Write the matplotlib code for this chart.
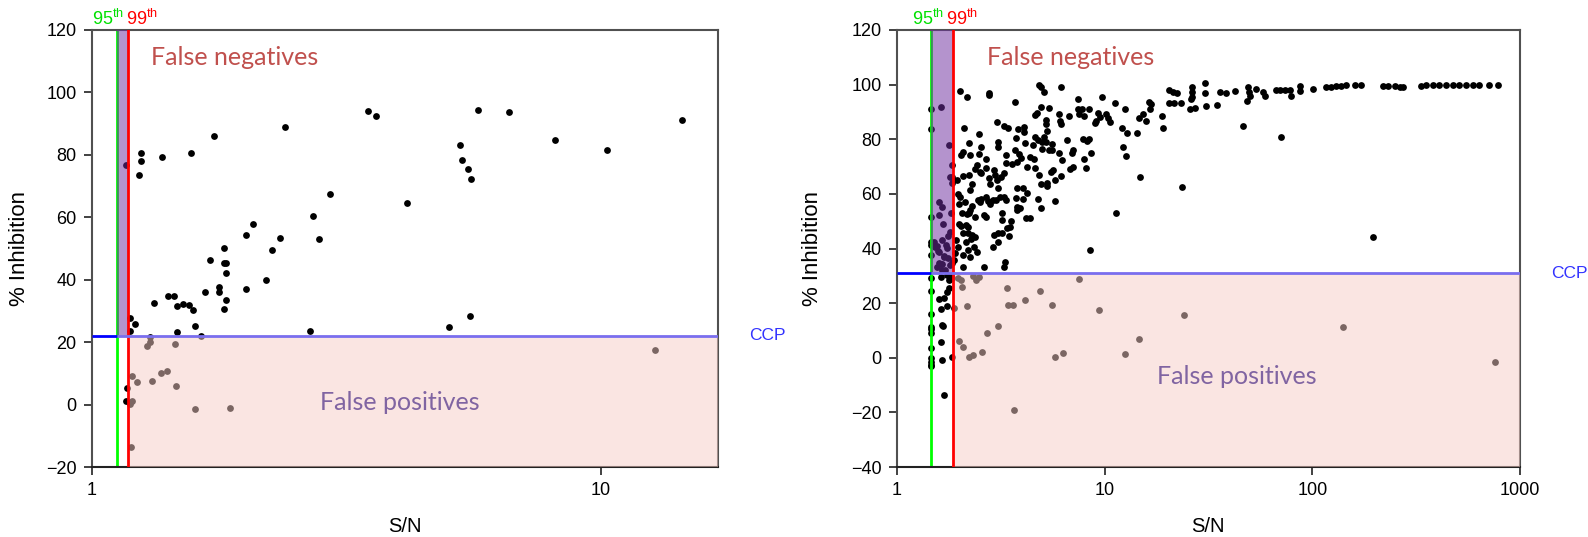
import matplotlib
matplotlib.use('Agg')
import matplotlib.pyplot as plt
import numpy as np
from matplotlib.ticker import FixedLocator, FixedFormatter, NullLocator
from matplotlib.transforms import blended_transform_factory, ScaledTranslation

plt.rcParams['font.family'] = ['Liberation Sans', 'DejaVu Sans']
plt.rcParams['mathtext.fontset'] = 'custom'
plt.rcParams['mathtext.rm'] = 'Liberation Sans'
plt.rcParams['mathtext.it'] = 'Liberation Sans:italic'

# ---------------- data: left panel ----------------
left_sn = [1.166, 1.236, 1.247, 1.247, 1.374, 1.566, 1.736, 2.391, 3.488, 3.612, 2.94,
           5.75, 6.61, 5.28, 5.34, 5.48, 5.57, 4.17, 8.12, 10.27, 14.43,
           5.04, 5.53, 12.78,
           2.72, 2.80, 2.068, 2.007, 2.345, 2.254, 2.193, 2.007, 1.816, 1.816, 1.834, 1.83,
           1.838, 1.819, 1.707, 1.778, 1.778, 1.671, 1.325, 1.409, 1.448, 1.466, 1.51, 1.552,
           1.579, 1.595, 1.472, 1.641, 1.19, 1.217, 1.188, 2.686,
           1.30, 1.30, 1.283, 1.457, 1.197, 1.226, 1.311, 1.369, 1.405, 1.461, 1.593, 1.864,
           1.2, 1.19, 1.195,
           1.17, 1.165]
left_inh = [76.6, 73.7, 80.6, 77.9, 79.3, 80.5, 85.9, 88.9, 94.0, 92.6, 67.4,
            94.4, 93.7, 83.0, 78.4, 75.6, 72.2, 64.7, 84.6, 81.5, 91.2,
            24.9, 28.3, 17.6,
            60.5, 53.0, 57.8, 54.4, 53.3, 49.5, 39.8, 37.0, 50.2, 45.2, 45.2, 42.1,
            33.5, 30.7, 46.3, 37.7, 36.1, 36.2, 32.6, 34.8, 34.9, 31.5, 32.2, 31.8,
            30.4, 25.1, 23.3, 21.9, 27.8, 25.9, 23.7, 23.7,
            21.7, 20.1, 18.9, 19.5, 9.2, 7.3, 7.4, 10.0, 10.6, 6.0, -1.3, -1.0,
            1.3, 0.1, -13.5,
            5.2, 1.3]
left_p95, left_p99, left_ccp = 1.12, 1.175, 22.0

# ---------------- data: right panel ----------------
right_sn = [
    # upper group
    2.02, 2.18, 2.76, 2.77, 3.70, 4.85, 4.96, 5.13, 6.19, 7.41, 9.73, 11.2, 12.5, 16.3, 16.7,
    20.3, 21.4, 22.2, 20.5, 21.6, 1.45, 1.63, 1.45, 3.03, 3.29, 3.41, 3.82, 4.09, 4.64, 4.71,
    4.94, 5.40, 5.22, 5.22, 5.26, 6.01, 6.10, 6.19, 6.75, 7.44, 7.55, 7.78, 7.95, 8.44, 8.94,
    9.12, 9.33, 9.50, 10.1, 10.4, 10.6, 12.1, 12.8, 14.3, 14.7, 15.3, 15.9, 16.6, 18.8, 19.0, 2.11,
    # 65-80
    1.78, 2.03, 2.08, 2.25, 2.23, 2.47, 2.53, 2.48, 2.69, 3.06, 3.08, 3.35, 3.74, 3.71, 3.88,
    4.09, 4.15, 4.50, 4.64, 4.80, 4.98, 5.11, 5.22, 5.01, 5.38, 5.58, 5.56, 6.06, 6.24, 6.57,
    7.02, 6.94, 7.83, 8.25, 8.44, 8.63, 12.3, 12.6, 7.92, 8.10, 1.79, 1.83, 1.83, 1.84,
    # 58-73
    1.94, 2.08, 2.21, 2.25, 2.30, 2.37, 2.43, 2.50, 2.54, 2.69, 2.76, 2.81, 2.92, 2.96, 3.03,
    3.05, 3.16, 3.26, 3.34, 3.56, 3.78, 3.95, 4.22, 4.38, 4.56, 4.06, 3.78, 3.74, 4.06, 4.22,
    4.62, 4.85, 4.92, 5.26, 5.26, 5.54, 5.63, 5.79, 6.15, 6.84, 7.07,
    # 40-60
    1.99, 1.96, 2.02, 2.12, 2.05, 2.17, 2.22, 2.25, 2.30, 2.38, 2.45, 2.50, 2.55, 2.63, 2.67,
    2.69, 2.75, 2.79, 2.89, 3.00, 3.14, 3.28, 3.35, 3.54, 3.51, 3.19, 3.20, 3.38, 3.48, 3.80,
    3.80, 3.92, 4.18, 4.35, 4.80, 4.92, 5.79, 11.4, 14.8, 8.50,
    # 32-50
    1.99, 2.04, 2.09, 2.15, 2.19, 2.19, 2.15, 2.29, 2.20, 2.09, 2.24, 2.27, 2.37, 2.34, 2.42,
    2.92, 3.05, 3.07, 3.19, 2.89, 3.31, 3.27, 2.61, 2.09, 1.93, 1.96, 1.91, 1.89,
    # between 95th and 99th
    1.60, 1.65, 1.60, 1.66, 1.46, 1.82, 1.80, 1.77, 1.50, 1.45, 1.46, 1.53, 1.59, 1.59, 1.65,
    1.69, 1.74, 1.77, 1.80, 1.45, 1.56, 1.65, 1.71, 1.56, 1.64, 1.73, 1.57, 1.69, 1.62, 1.83,
    # below CCP, below 99th
    1.45, 1.46, 1.45, 1.45, 1.45, 1.45, 1.45, 1.45, 1.45, 1.45, 1.45, 1.63, 1.74, 1.78, 1.78,
    1.74, 1.59, 1.69, 1.62, 1.74, 1.65, 1.66, 1.63, 1.65, 1.69, 1.85, 1.82, 1.85,
    # false positives
    1.89, 1.96, 2.04, 2.06, 2.17, 1.99, 2.08, 2.23, 2.32, 2.58, 2.71, 3.05, 3.38, 3.43, 3.62,
    3.64, 4.15, 4.89, 5.56, 5.79, 6.28, 7.55, 9.40, 12.5, 14.7, 2.32, 2.41, 2.48, 24.0, 140, 757,
    # plateau
    23.3, 23.6, 26.4, 26.4, 26.4, 26.0, 25.7, 27.2, 30.3, 30.3, 30.9, 34.9, 35.8, 38.6, 42.5,
    46.4, 49.0, 49.5, 50.0, 48.5, 53.8, 57.9, 59.0, 67.1, 70.1, 73.6, 70.4, 78.4, 78.8, 86.9,
    86.9, 101, 116, 123, 130, 138, 146, 160, 172, 197, 219, 231, 249, 263, 273,
    334, 353, 380, 409, 441, 474, 510, 550, 592, 637, 713, 782]
right_inh = [
    97.8, 95.3, 96.8, 96.1, 93.8, 99.7, 99.2, 97.3, 99.2, 94.6, 95.3, 93.4, 91.0, 93.6, 92.8,
    98.0, 97.4, 96.8, 93.4, 93.1, 91.2, 91.9, 83.6, 86.3, 85.0, 84.0, 83.6, 84.4, 88.9, 89.7,
    91.9, 91.6, 87.0, 85.6, 83.1, 89.2, 86.8, 85.6, 88.5, 91.0, 89.2, 91.0, 88.5, 91.0, 86.1,
    86.6, 89.5, 88.3, 89.1, 87.7, 86.2, 84.0, 82.4, 82.4, 87.7, 89.1, 86.7, 91.0, 88.5, 84.1, 84.0,
    78.0, 74.2, 75.5, 74.2, 78.8, 81.9, 77.0, 74.5, 72.7, 79.1, 77.0, 74.2, 80.6, 76.1, 74.6,
    82.8, 78.8, 77.8, 81.0, 79.7, 79.0, 80.7, 79.0, 76.3, 76.1, 78.3, 76.1, 74.9, 72.4, 79.7,
    76.1, 75.1, 80.1, 79.4, 80.2, 75.1, 77.0, 73.8, 72.7, 69.6, 66.3, 66.1, 70.6, 64.1,
    65.1, 66.7, 66.8, 61.4, 63.6, 69.0, 70.5, 68.0, 67.8, 69.5, 65.7, 63.6, 68.8, 66.9, 65.1,
    62.3, 66.3, 67.5, 71.2, 71.0, 71.7, 73.0, 69.7, 73.4, 72.9, 62.3, 62.0, 58.6, 58.0, 60.2,
    69.4, 67.0, 63.5, 64.1, 63.0, 67.9, 68.8, 64.9, 66.6, 69.0, 70.0,
    56.3, 60.0, 59.0, 56.9, 52.9, 52.7, 52.9, 54.1, 55.6, 51.7, 57.8, 57.2, 58.0, 52.3, 51.4,
    59.0, 57.5, 56.3, 57.8, 57.8, 59.0, 59.0, 57.8, 50.1, 48.0, 53.1, 50.5, 47.4, 44.6, 55.3,
    54.1, 54.7, 51.0, 51.1, 58.1, 55.0, 57.5, 53.1, 66.3, 39.5,
    48.9, 48.4, 45.6, 48.6, 48.0, 45.6, 42.5, 45.0, 39.5, 37.7, 36.8, 43.4, 44.1, 40.7, 38.8,
    45.0, 45.6, 42.5, 45.6, 40.5, 34.9, 33.1, 33.1, 33.4, 43.1, 40.7, 38.5, 35.8,
    57.2, 55.3, 52.3, 49.0, 51.4, 53.1, 46.2, 44.6, 42.2, 42.4, 37.7, 40.7, 38.9, 34.6, 34.4,
    37.0, 40.1, 36.4, 34.0, 41.3, 33.4, 32.2, 32.2, 41.0, 43.0, 41.2, 39.0, 37.1, 34.3, 34.7,
    29.1, 24.6, 16.0, 11.4, 10.7, 9.2, 3.5, -0.1, -1.6, -2.5, -3.0, 29.7, 30.3, 28.5, 25.5,
    24.0, 21.4, 21.8, 17.9, 18.8, 12.0, 11.7, 5.9, -1.0, -13.6, 0.1, 29.7, 29.1,
    18.1, 29.1, 28.5, 25.8, 19.1, 6.2, 4.1, 0.1, 0.9, 2.2, 9.2, 11.8, 25.6, 19.4, 19.4,
    -19.0, 21.0, 24.4, 19.4, 0.1, 1.6, 29.0, 17.5, 1.3, 6.9, 30.0, 28.5, 29.7, 15.5, 11.1, -1.4,
    93.4, 62.4, 99.0, 97.4, 95.6, 94.6, 91.1, 91.6, 100.7, 97.1, 92.0, 92.4, 97.3, 97.1, 97.8,
    84.9, 99.3, 97.4, 96.0, 94.1, 98.3, 97.4, 95.9, 98.0, 98.0, 98.2, 81.0, 98.0, 95.9, 99.5,
    97.7, 98.3, 99.0, 99.2, 99.4, 99.4, 99.8, 99.7, 99.8, 44.1, 99.6, 99.5, 99.4, 99.3, 99.3,
    99.6, 99.8, 99.8, 99.8, 99.9, 99.9, 99.9, 99.9, 99.9, 99.9, 100.0, 99.9]
right_p95, right_p99, right_ccp = 1.45, 1.86, 31.0

left_xticks, left_xticklabels = [1, 10], ['1', '10']
right_xticks, right_xticklabels = [1, 10, 100, 1000], ['1', '10', '100', '1000']
left_yticks = [-20, 0, 20, 40, 60, 80, 100, 120]
right_yticks = [-40, -20, 0, 20, 40, 60, 80, 100, 120]

# ---------------- figure ----------------
W, H = 1588, 537
fig = plt.figure(figsize=(W / 100, H / 100), dpi=100)


def add_ax(x0, x1, y0, y1):
    return fig.add_axes([x0 / W, 1 - y1 / H, (x1 - x0) / W, (y1 - y0) / H])


axL = add_ax(92, 718, 30, 467)
axR = add_ax(897, 1520, 30, 467)

RED_TXT = '#c0504d'
PURP_TXT = '#8064a2'


def panel(ax, sn, inh, p95, p99, ccp, xlim, ylim, xt, xtl, yt, fn_x, fp_xy):
    ax.set_xscale('log')
    ax.set_xlim(*xlim)
    ax.set_ylim(*ylim)
    ax.scatter(sn, inh, s=24, c='black', linewidths=0, zorder=2)
    ax.axvline(p95, color='#00ff00', lw=2, zorder=2.5)
    ax.fill_between([p95, p99], ccp, ylim[1], color='#7030a0', alpha=0.52, lw=0, zorder=3)
    ax.fill_between([p99, xlim[1]], ylim[0], ccp, color='#f6cdc6', alpha=0.5, lw=0, zorder=3)
    ax.axvline(p99, color='#ff0000', lw=2, zorder=4)
    ax.plot([xlim[0], p95], [ccp, ccp], color='#0000ff', lw=2, zorder=4, solid_capstyle='butt')
    ax.plot([p95, xlim[1]], [ccp, ccp], color='#7a6eee', lw=2, zorder=4, solid_capstyle='butt')

    ax.xaxis.set_major_locator(FixedLocator(xt))
    ax.xaxis.set_major_formatter(FixedFormatter(xtl))
    ax.xaxis.set_minor_locator(NullLocator())
    ax.set_yticks(yt)
    ax.tick_params(direction='out', length=6, width=1.3, labelsize=13, pad=5, color='#333333')
    for s in ax.spines.values():
        s.set_color('#505050')
        s.set_linewidth(1.5)
    ax.spines['bottom'].set_color('#222222')

    ax.text(fn_x, 0.938, 'False negatives', transform=ax.transAxes, fontfamily='Lato',
            fontsize=18, color=RED_TXT, ha='left', va='center')
    ax.text(fp_xy[0], fp_xy[1], 'False positives', transform=ax.transAxes, fontfamily='Lato',
            fontsize=18, color=PURP_TXT, ha='center', va='center')

    tr = blended_transform_factory(ax.transAxes, ax.transData)
    ax.text(1 + 31 / 626, ccp, 'CCP', transform=tr, color='#3333ff', fontsize=12.5,
            ha='left', va='center', clip_on=False)

    mid = np.sqrt(p95 * p99)
    trt = blended_transform_factory(ax.transData, ax.transAxes)
    ax.text(mid, 1.012, r'95$^{\mathrm{th}}$', color='#00e000', fontsize=13, ha='right',
            va='baseline', transform=trt + ScaledTranslation(2 / 100, 0, fig.dpi_scale_trans))
    ax.text(mid, 1.012, r'99$^{\mathrm{th}}$', color='#ff0000', fontsize=13, ha='left',
            va='baseline', transform=trt + ScaledTranslation(4 / 100, 0, fig.dpi_scale_trans))


panel(axL, left_sn, left_inh, left_p95, left_p99, left_ccp, (1, 17), (-20, 120),
      left_xticks, left_xticklabels, left_yticks, 0.094, (0.491, 0.147))
panel(axR, right_sn, right_inh, right_p95, right_p99, right_ccp, (1, 1000), (-40, 120),
      right_xticks, right_xticklabels, right_yticks, 0.145, (0.546, 0.207))

fig.text(20 / W, 1 - 248 / H, '% Inhibition', rotation=90, ha='center', va='center', fontsize=16)
fig.text(812 / W, 1 - 248 / H, '% Inhibition', rotation=90, ha='center', va='center', fontsize=16)
fig.text(405 / W, 1 - 527 / H, 'S/N', ha='center', va='center', fontsize=14.5)
fig.text(1208 / W, 1 - 527 / H, 'S/N', ha='center', va='center', fontsize=14.5)

fig.savefig('out.png', dpi=100)
